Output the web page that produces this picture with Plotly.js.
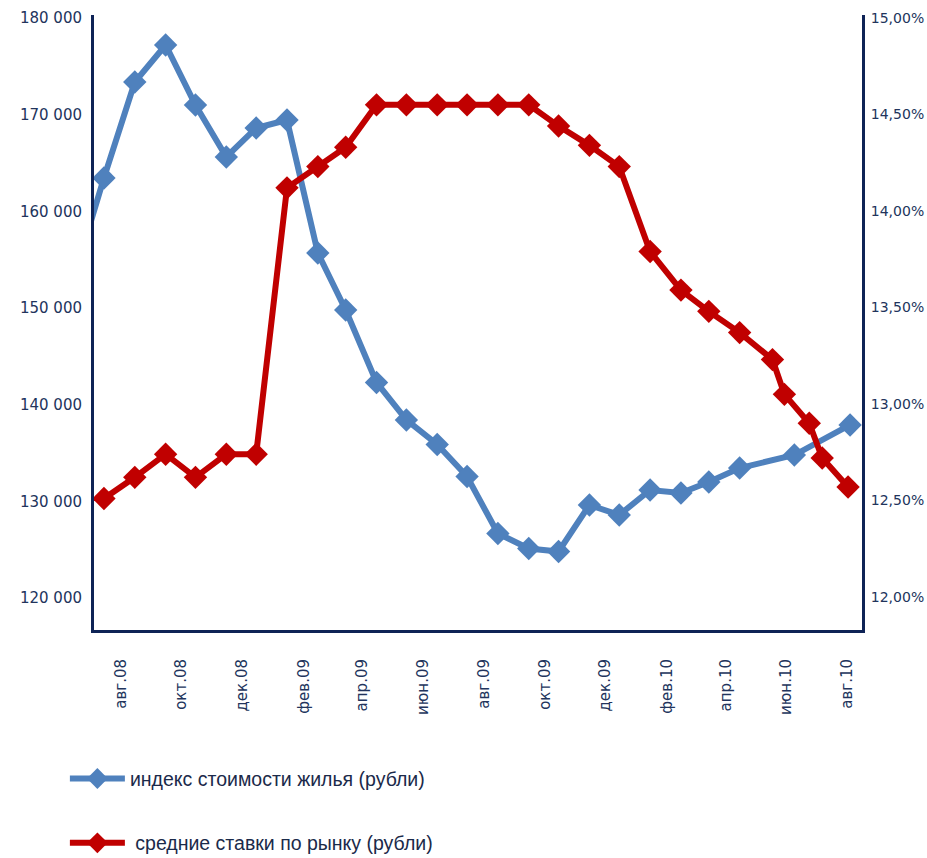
<!DOCTYPE html>
<html>
<head>
<meta charset="utf-8">
<script src="https://cdn.plot.ly/plotly-3.0.1.min.js"></script>
<style>html,body{margin:0;padding:0;background:#fff;}#chart{width:927px;height:858px;}</style>
</head>
<body>
<div id="chart"></div>
<script>
// ---- data ----
var priceDates = ['2008-06-15','2008-07-15','2008-08-15','2008-09-15','2008-10-15','2008-11-15','2008-12-15',
  '2009-01-15','2009-02-15','2009-03-15','2009-04-15','2009-05-15','2009-06-15','2009-07-15','2009-08-15',
  '2009-09-15','2009-10-15','2009-11-15','2009-12-15','2010-01-15','2010-02-15','2010-03-15','2010-04-15',
  '2010-06-09','2010-08-04'];
var priceValues = [153200,163450,173380,177210,171000,165620,168620,
  169450,155690,149790,142300,138420,135880,132570,126670,
  125120,124810,129620,128590,131170,130860,132000,133450,
  134790,137900];

var rateDates = ['2008-07-15','2008-08-15','2008-09-15','2008-10-15','2008-11-15','2008-12-15',
  '2009-01-15','2009-02-15','2009-03-15','2009-04-15','2009-05-15','2009-06-15','2009-07-15','2009-08-15',
  '2009-09-15','2009-10-15','2009-11-15','2009-12-15','2010-01-15','2010-02-15','2010-03-15','2010-04-15',
  '2010-05-18','2010-05-30','2010-06-24','2010-07-07','2010-08-02'];
var rateValues = [0.1251,0.1262,0.1274,0.1262,0.1274,0.1274,
  0.1412,0.1423,0.1433,0.1455,0.1455,0.1455,0.1455,0.1455,
  0.1455,0.1444,0.1434,0.1423,0.1379,0.1359,0.1348,0.1337,
  0.1323,0.1305,0.1290,0.1272,0.1257];

var tickDates = ['2008-08-01','2008-10-01','2008-12-01','2009-02-01','2009-04-01','2009-06-01','2009-08-01',
  '2009-10-01','2009-12-01','2010-02-01','2010-04-01','2010-06-01','2010-08-01'];
var tickLabels = ['авг.08','окт.08','дек.08','фев.09','апр.09','июн.09','авг.09',
  'окт.09','дек.09','фев.10','апр.10','июн.10','авг.10'];

var leftTicks = [120000,130000,140000,150000,160000,170000,180000];
var rightTicks = [0.12,0.125,0.13,0.135,0.14,0.145,0.15];

var seriesNames = ['индекс стоимости жилья (рубли)', ' средние ставки по рынку (рубли)'];

// ---- styles ----
var axisColor = '#0E2356';
var textColor = '#22345C';
var blue = '#4F81BD';
var red = '#C00000';
var tickFont = {family: 'DejaVu Sans, Arial, sans-serif', size: 15, color: textColor};
var rightTickFont = {family: 'DejaVu Sans, Arial, sans-serif', size: 14, color: textColor};

var traces = [
  {
    x: priceDates, y: priceValues, name: seriesNames[0], type: 'scatter', mode: 'lines+markers',
    line: {color: blue, width: 6}, marker: {symbol: 'diamond', size: 18, color: blue},
    yaxis: 'y', legendgroup: 'a'
  },
  {
    x: rateDates, y: rateValues, name: seriesNames[1], type: 'scatter', mode: 'lines+markers',
    line: {color: red, width: 6}, marker: {symbol: 'diamond', size: 18, color: red},
    yaxis: 'y2', legendgroup: 'b'
  }
];

var layout = {
  width: 927, height: 858,
  margin: {l: 94, r: 65, t: 15, b: 228, pad: 0, autoexpand: false},
  paper_bgcolor: '#ffffff', plot_bgcolor: '#ffffff',
  separators: ', ',
  font: {family: 'DejaVu Sans, Liberation Sans, Arial, sans-serif', size: 14, color: textColor},
  showlegend: true,
  legend: {
    xref: 'container', yref: 'container',
    x: 0.07, xanchor: 'left', y: 0.115, yanchor: 'top',
    orientation: 'v', tracegroupgap: 36, itemwidth: 55,
    font: {family: 'Liberation Sans, Arial, sans-serif', size: 19.5, color: '#1B2A4A'},
    bgcolor: 'rgba(0,0,0,0)'
  },
  xaxis: {
    type: 'date', automargin: false,
    range: ['2008-07-05', '2010-08-16'],
    tickmode: 'array', tickvals: tickDates, ticktext: tickLabels,
    tickangle: -90, ticks: '', ticklabelstandoff: 20,
    tickfont: tickFont,
    showgrid: false, zeroline: false,
    showline: true, linecolor: axisColor, linewidth: 3
  },
  yaxis: {
    range: [116690, 180310], automargin: false,
    tickmode: 'array', tickvals: leftTicks, tickformat: ',d',
    ticks: '', ticklabelstandoff: 6,
    tickfont: tickFont,
    showgrid: false, zeroline: false,
    showline: true, linecolor: axisColor, linewidth: 3
  },
  yaxis2: {
    overlaying: 'y', side: 'right', automargin: false,
    range: [0.11829, 0.150155],
    tickmode: 'array', tickvals: rightTicks, tickformat: '.2%',
    ticks: '', ticklabelstandoff: 3,
    tickfont: rightTickFont,
    showgrid: false, zeroline: false,
    showline: true, linecolor: axisColor, linewidth: 3
  }
};

Plotly.newPlot('chart', traces, layout, {displayModeBar: false, staticPlot: true});
</script>
</body>
</html>
